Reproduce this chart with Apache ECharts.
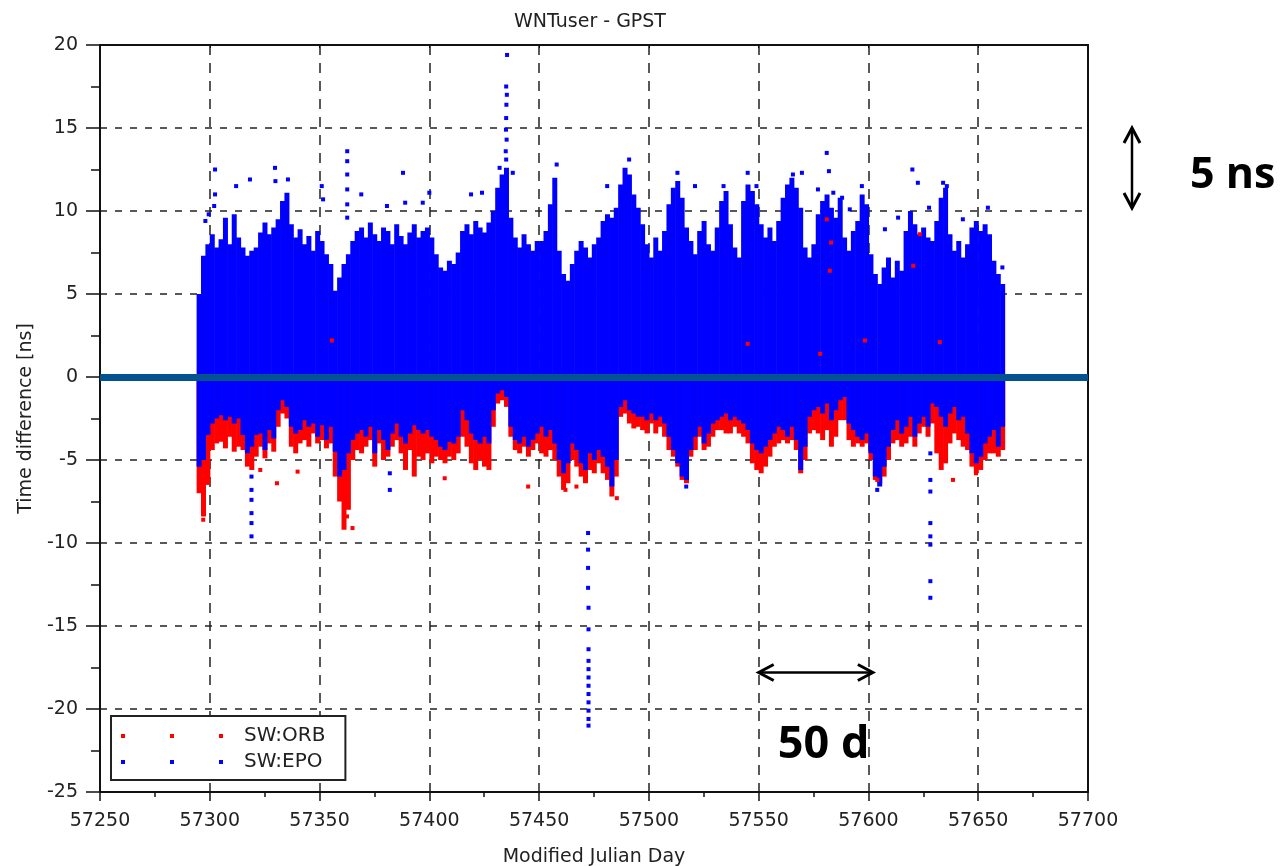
<!DOCTYPE html>
<html>
<head>
<meta charset="utf-8">
<title>WNTuser - GPST</title>
<script src="https://cdn.jsdelivr.net/npm/echarts/dist/echarts.min.js"></script>
<style>
  html, body { margin: 0; padding: 0; background: #fff; }
  #chart { width: 1281px; height: 866px; }
</style>
</head>
<body>
<div id="chart"></div>
<script>
// x axis ticks (MJD)
const xTicks = [57250, 57300, 57350, 57400, 57450, 57500, 57550, 57600, 57650, 57700];
// y axis ticks (ns)
const yTicks = [-25, -20, -15, -10, -5, 0, 5, 10, 15, 20];

// data in 2-day bins, first bin centred on MJD 57295
const binStart = 57295;
const binStep = 2;

// SW:EPO (blue) - upper edge of the dense cloud
const bluTop = [
  5.0, 7.3, 8.0, 8.6, 7.8, 8.3, 9.6, 8.0, 9.8, 8.4,
  7.8, 7.3, 7.6, 7.8, 8.7, 9.3, 8.6, 9.0, 9.5, 10.6,
  11.1, 9.2, 8.4, 8.9, 8.0, 8.5, 7.6, 8.8, 8.2, 7.4,
  6.8, 5.2, 6.0, 6.8, 7.4, 8.2, 8.8, 9.0, 8.4, 9.3,
  8.6, 8.2, 9.0, 8.8, 8.0, 9.2, 8.5, 8.0, 8.7, 9.2,
  8.4, 8.8, 9.0, 8.4, 7.4, 6.6, 6.4, 7.0, 6.8, 7.5,
  8.8, 9.2, 8.6, 9.4, 9.0, 8.7, 9.3, 10.0, 11.4, 12.2,
  12.6, 9.6, 8.4, 7.8, 8.6, 8.0, 7.6, 8.2, 8.2, 8.8,
  10.4, 12.0, 7.6, 6.2, 5.8, 6.8, 7.6, 8.2, 7.8, 7.2,
  8.0, 8.4, 9.4, 9.8, 9.6, 10.2, 11.6, 12.6, 12.2, 11.0,
  10.2, 9.2, 8.0, 7.2, 8.4, 7.6, 8.8, 10.4, 11.4, 11.8,
  10.8, 9.0, 8.2, 7.4, 8.8, 9.4, 8.0, 7.6, 9.0, 10.6,
  11.2, 9.2, 7.8, 7.2, 10.6, 11.6, 11.2, 10.4, 9.2, 8.4,
  9.0, 8.2, 9.4, 10.8, 11.6, 12.0, 11.4, 10.2, 7.8, 7.2,
  8.0, 9.8, 10.6, 11.0, 10.2, 9.6, 10.8, 8.4, 7.6, 8.8,
  9.4, 11.0, 10.4, 7.4, 6.2, 5.6, 6.6, 7.2, 6.0, 7.0,
  6.4, 8.8, 10.0, 9.2, 8.6, 9.0, 8.4, 8.2, 9.4, 10.8,
  11.4, 8.6, 7.6, 8.2, 7.2, 8.0, 9.0, 9.4, 8.8, 9.2,
  8.6, 7.0, 6.2, 5.6
];

// SW:EPO (blue) - lower edge of the dense cloud
const bluBot = [
  -5.4, -5.0, -3.5, -2.8, -2.5, -2.3, -2.6, -2.4, -2.8, -2.5,
  -3.5, -4.6, -4.2, -3.5, -3.4, -4.4, -3.2, -3.7, -2.0, -1.4,
  -1.8, -3.0, -3.4, -3.2, -2.6, -3.0, -2.8, -3.6, -2.9, -3.8,
  -3.0, -4.5, -6.0, -5.6, -4.6, -3.8, -3.4, -3.2, -3.6, -3.0,
  -4.6, -3.2, -3.8, -4.4, -3.4, -2.8, -3.6, -4.0, -3.4, -2.9,
  -3.2, -3.4, -3.2, -3.6, -3.8, -4.2, -4.4, -3.9, -4.0, -3.6,
  -2.0, -2.6, -3.4, -3.8, -4.0, -3.6, -4.0, -2.0, -1.0, -0.8,
  -1.2, -3.0, -3.8, -4.0, -3.6, -4.2, -3.8, -3.4, -3.0, -3.6,
  -3.2, -4.0, -5.0, -5.8, -5.2, -4.0, -4.4, -5.2, -5.6, -4.6,
  -5.0, -4.4, -4.8, -5.4, -6.6, -5.0, -1.8, -1.4, -2.0, -2.2,
  -2.4, -2.4, -2.6, -2.2, -2.6, -2.4, -2.8, -3.6, -4.4, -5.2,
  -6.0, -6.2, -4.4, -3.6, -3.0, -4.0, -3.4, -2.8, -2.6, -2.4,
  -2.2, -2.6, -2.4, -2.6, -2.8, -3.2, -4.0, -4.4, -4.6, -4.2,
  -3.8, -3.4, -3.0, -3.2, -3.6, -3.0, -3.8, -5.6, -4.2, -2.4,
  -2.0, -1.8, -2.2, -1.6, -2.6, -2.0, -1.4, -1.2, -2.8, -3.2,
  -3.6, -3.8, -3.4, -4.6, -6.0, -6.6, -5.4, -4.2, -3.2, -2.6,
  -3.4, -3.0, -2.4, -3.6, -2.8, -2.4, -3.0, -1.6, -1.8, -2.4,
  -3.0, -2.2, -1.8, -2.6, -2.4, -3.4, -4.6, -5.2, -4.8, -4.0,
  -3.6, -3.2, -4.2, -3.0
];

// SW:ORB (red) - lower edge, shows under the blue cloud
const redBot = [
  -7.0, -8.4, -6.5, -4.4, -4.0, -3.9, -4.3, -3.6, -4.5, -4.2,
  -4.4, -5.4, -5.6, -4.8, -4.2, -4.9, -4.0, -4.5, -3.0, -2.2,
  -2.5, -4.2, -4.6, -4.0, -3.8, -4.2, -3.4, -4.0, -3.8, -4.3,
  -4.0, -6.0, -7.5, -9.2, -8.0, -5.0, -4.4, -4.6, -4.2, -3.8,
  -5.4, -4.0, -5.0, -4.8, -4.2, -3.8, -4.6, -5.6, -4.4, -6.0,
  -4.8, -5.0, -4.6, -5.2, -4.8, -5.0, -5.2, -4.8, -5.0, -4.6,
  -3.6, -4.2, -5.2, -5.6, -5.0, -5.4, -5.6, -3.0, -1.6, -1.4,
  -1.8, -3.6, -4.4, -4.6, -4.2, -4.8, -4.4, -4.0, -4.6, -4.8,
  -4.4, -5.0, -6.0, -6.8, -6.4, -5.0, -5.4, -6.0, -6.4, -5.6,
  -5.8, -5.2, -5.8, -6.2, -7.2, -6.0, -2.4, -2.2, -2.8, -3.1,
  -3.0, -3.2, -3.4, -2.8, -3.4, -3.0, -3.6, -4.4, -4.8, -5.4,
  -6.2, -6.4, -4.8, -4.4, -3.6, -4.4, -4.2, -3.6, -3.2, -3.2,
  -3.4, -3.4, -3.0, -3.4, -3.6, -4.0, -5.2, -5.6, -5.8, -5.4,
  -4.8, -4.2, -4.0, -3.8, -4.0, -3.8, -4.4, -5.8, -5.0, -3.4,
  -3.2, -3.4, -3.8, -3.2, -4.2, -3.6, -2.6, -2.6, -3.8, -4.2,
  -4.0, -4.2, -4.0, -5.0, -6.2, -6.4, -6.0, -5.0, -4.0, -3.8,
  -4.2, -4.0, -3.6, -4.2, -3.4, -3.0, -3.6, -2.8, -4.6, -5.6,
  -5.2, -4.0, -3.4, -3.8, -4.2, -4.4, -5.4, -5.8, -5.6, -5.0,
  -4.6, -4.6, -4.8, -4.4
];

// isolated blue points [MJD, ns]
const bluDots = [
  [57435.4, 19.4], [57435.0, 17.5], [57435.3, 17.0], [57435.1, 16.4], [57435.0, 15.6],
  [57434.9, 14.9], [57435.2, 14.3], [57434.8, 13.6], [57435.0, 13.1],
  [57472.3, -9.4], [57472.3, -10.4], [57472.3, -11.5], [57472.3, -12.7], [57472.5, -13.9],
  [57472.5, -15.2], [57472.5, -16.4], [57472.5, -17.1], [57472.5, -17.6], [57472.5, -18.1],
  [57472.5, -18.6], [57472.5, -19.1], [57472.5, -19.6], [57472.5, -20.1], [57472.5, -20.6],
  [57472.5, -21.0],
  [57628.2, -4.6], [57628.2, -6.2], [57628.2, -6.9], [57628.2, -8.8], [57628.2, -9.6],
  [57628.2, -10.1], [57628.2, -12.3], [57628.2, -13.3],
  [57319.0, -6.0], [57319.0, -6.8], [57319.0, -7.4], [57319.0, -8.2], [57319.0, -8.8], [57319.0, -9.6],
  [57362.6, 13.6], [57362.6, 13.0], [57362.6, 12.2], [57362.6, 11.3], [57362.6, 10.4], [57362.6, 9.6],
  [57302.4, 12.5], [57302.4, 11.0], [57302.0, 10.3], [57299.5, 9.8], [57298.0, 9.4],
  [57312.0, 11.5], [57318.3, 11.9], [57329.7, 12.6], [57329.9, 11.8], [57335.6, 11.9],
  [57351.0, 11.5], [57351.6, 10.7], [57369.0, 11.0], [57380.7, 10.3], [57388.0, 12.3],
  [57389.0, 10.5], [57397.0, 10.5], [57400.0, 11.1], [57419.0, 11.0], [57424.0, 11.1],
  [57432.0, 12.6], [57438.0, 12.3], [57458.0, 12.8], [57481.0, 11.5], [57491.0, 13.1],
  [57513.0, 12.3], [57521.0, 11.5], [57534.0, 11.5], [57545.0, 12.3], [57549.0, 11.5],
  [57565.6, 12.2], [57569.7, 12.3], [57577.0, 11.3], [57581.0, 13.5], [57582.0, 12.4],
  [57584.0, 11.1], [57588.0, 10.8], [57591.5, 10.1], [57597.0, 11.5], [57598.0, 10.2],
  [57607.5, 8.9], [57613.5, 9.6], [57620.0, 12.5], [57622.5, 11.7], [57627.6, 10.2],
  [57634.0, 11.7], [57635.7, 11.5], [57643.0, 9.5], [57654.4, 10.2], [57661.0, 6.6],
  [57382.0, -5.8], [57382.0, -6.8], [57604.0, -6.8], [57517.0, -6.6]
];

// isolated red points [MJD, ns]
const redDots = [
  [57355.6, 2.2], [57545.0, 2.0], [57578.0, 1.4], [57581.0, 9.5], [57583.0, 8.1],
  [57582.4, 6.4], [57598.4, 2.2], [57620.4, 6.7], [57623.4, 8.6], [57632.5, 2.1],
  [57323.0, -5.6], [57330.6, -6.4], [57340.0, -5.7], [57362.5, -8.4], [57365.0, -9.1],
  [57407.0, -6.1], [57445.0, -6.6], [57462.0, -6.8], [57467.0, -6.6], [57485.4, -7.3],
  [57604.0, -6.2], [57638.5, -6.2], [57649.0, -5.8], [57297.0, -8.6]
];

const days = bluTop.map((v, i) => binStart + i * binStep);
const bluBars = bluTop.map((t, i) => [days[i], t, bluBot[i]]);
const redBars = redBot.map((b, i) => [days[i], 0, b]);

const FONT = 'DejaVu Sans';
const AXIS = '#111';

// one vertical block per bin, from hi down to lo
function rangeBar (color) {
  return function (params, api) {
    const x = api.value(0);
    const a = api.coord([x - binStep / 2, api.value(1)]);
    const b = api.coord([x + binStep / 2, api.value(2)]);
    return {
      type: 'rect',
      shape: { x: a[0], y: a[1], width: b[0] - a[0] + 0.6, height: b[1] - a[1] },
      style: { fill: color }
    };
  };
}

const chart = echarts.init(document.getElementById('chart'));

chart.setOption({
  animation: false,
  backgroundColor: '#fff',
  title: {
    text: 'WNTuser - GPST',
    left: 585,
    top: 8,
    textAlign: 'center',
    textStyle: { fontFamily: FONT, fontSize: 19, fontWeight: 'normal', color: '#222' }
  },
  // fixed plot box, labels are allowed to sit outside it
  grid: { left: 100, top: 45, width: 988, height: 747, outerBoundsMode: 'none', containLabel: false },
  legend: {
    left: 111,
    top: 716,
    orient: 'vertical',
    padding: [10, 20, 8, 10],
    itemGap: 6,
    itemWidth: 102,
    itemHeight: 4,
    borderColor: '#222',
    borderWidth: 2,
    backgroundColor: '#fff',
    textStyle: { fontFamily: FONT, fontSize: 20, lineHeight: 20, color: '#222', padding: [0, 0, 0, 16] },
    data: [
      { name: 'SW:ORB', icon: 'path://M0,0h4v4h-4zM49,0h4v4h-4zM98,0h4v4h-4z', itemStyle: { color: '#ff0000' } },
      { name: 'SW:EPO', icon: 'path://M0,0h4v4h-4zM49,0h4v4h-4zM98,0h4v4h-4z', itemStyle: { color: '#0000ff' } }
    ]
  },
  xAxis: [
    {
      type: 'value',
      min: xTicks[0],
      max: xTicks[xTicks.length - 1],
      interval: 50,
      position: 'bottom',
      name: 'Modified Julian Day',
      nameLocation: 'middle',
      nameGap: 56,
      nameTextStyle: { fontFamily: FONT, fontSize: 19, color: '#222' },
      axisLine: { onZero: false, lineStyle: { color: AXIS, width: 2 } },
      axisTick: { length: 9, lineStyle: { color: AXIS, width: 1.5 } },
      minorTick: { show: true, splitNumber: 2, length: 5, lineStyle: { color: AXIS, width: 1.5 } },
      axisLabel: { fontFamily: FONT, fontSize: 19, color: '#222', margin: 20, formatter: v => String(v) },
      splitLine: { show: true, lineStyle: { type: [10, 8], color: '#222', width: 1.5 } }
    },
    {
      type: 'value',
      min: xTicks[0],
      max: xTicks[xTicks.length - 1],
      interval: 50,
      position: 'top',
      axisLine: { onZero: false, lineStyle: { color: AXIS, width: 2 } },
      axisTick: { inside: true, length: 3, lineStyle: { color: AXIS } },
      axisLabel: { show: false },
      splitLine: { show: false }
    }
  ],
  yAxis: [
    {
      type: 'value',
      min: yTicks[0],
      max: yTicks[yTicks.length - 1],
      interval: 5,
      position: 'left',
      name: 'Time difference [ns]',
      nameLocation: 'middle',
      nameGap: 64,
      nameTextStyle: { fontFamily: FONT, fontSize: 19, color: '#222' },
      axisLine: { show: true, onZero: false, lineStyle: { color: AXIS, width: 2 } },
      axisTick: { length: 14, lineStyle: { color: AXIS, width: 1.5 } },
      minorTick: { show: true, splitNumber: 2, length: 9, lineStyle: { color: AXIS, width: 1.5 } },
      axisLabel: { fontFamily: FONT, fontSize: 19, color: '#222', margin: 22 },
      splitLine: { show: true, lineStyle: { type: [7, 8], color: '#222', width: 1.5 } }
    },
    {
      type: 'value',
      min: yTicks[0],
      max: yTicks[yTicks.length - 1],
      interval: 5,
      position: 'right',
      axisLine: { show: true, onZero: false, lineStyle: { color: AXIS, width: 2 } },
      axisTick: { show: false },
      axisLabel: { show: false },
      splitLine: { show: false }
    }
  ],
  series: [
    {
      name: 'SW:ORB',
      type: 'custom',
      renderItem: rangeBar('#ff0000'),
      encode: { x: 0, y: [1, 2] },
      data: redBars,
      z: 2
    },
    {
      name: 'SW:EPO',
      type: 'custom',
      renderItem: rangeBar('#0000ff'),
      encode: { x: 0, y: [1, 2] },
      data: bluBars,
      z: 3
    },
    {
      name: 'SW:EPO',
      type: 'scatter',
      symbol: 'rect',
      symbolSize: 4,
      itemStyle: { color: '#0000ff', opacity: 1 },
      data: bluDots,
      z: 4
    },
    {
      name: 'SW:ORB',
      type: 'scatter',
      symbol: 'rect',
      symbolSize: 4,
      itemStyle: { color: '#ff0000', opacity: 1 },
      data: redDots,
      z: 5,
      // thick zero reference line
      markLine: {
        silent: true,
        symbol: 'none',
        label: { show: false },
        lineStyle: { color: '#02538f', width: 7, type: 'solid', opacity: 1 },
        data: [{ yAxis: 0 }]
      }
    }
  ]
});

// annotations: 5 ns and 50 d arrows, placed with the axes' scales
const P = (x, y) => chart.convertToPixel({ gridIndex: 0 }, [x, y]);

function arrow (x1, y1, x2, y2) {
  const len = Math.hypot(x2 - x1, y2 - y1);
  const ux = (x2 - x1) / len, uy = (y2 - y1) / len;
  const head = (tx, ty, dx, dy) => ({
    type: 'polyline',
    shape: { points: [[tx - dx * 15 - dy * 8, ty - dy * 15 + dx * 8], [tx, ty], [tx - dx * 15 + dy * 8, ty - dy * 15 - dx * 8]] },
    style: { stroke: '#000', lineWidth: 3, fill: null }
  });
  return [
    { type: 'line', shape: { x1: x1, y1: y1, x2: x2, y2: y2 }, style: { stroke: '#000', lineWidth: 2.5 } },
    head(x2, y2, ux, uy),
    head(x1, y1, -ux, -uy)
  ];
}

const rightEdge = P(57700, 0)[0];
const v15 = P(57700, 15)[1];
const v10 = P(57700, 10)[1];
const d1 = P(57550, -17.8);
const d2 = P(57602, -17.8);

chart.setOption({
  graphic: [
    ...arrow(rightEdge + 44, v15, rightEdge + 44, v10 - 3),
    {
      type: 'text',
      x: rightEdge + 102,
      y: (v15 + v10) / 2 + 6,
      style: { text: '5 ns', fontFamily: 'Open Sans', fontSize: 43, fontWeight: 'bold', fill: '#000', verticalAlign: 'middle' }
    },
    ...arrow(d1[0], d1[1], d2[0], d2[1]),
    {
      type: 'text',
      x: P(57558.7, 0)[0],
      y: P(0, -22.2)[1],
      style: { text: '50 d', fontFamily: 'Open Sans', fontSize: 45, fontWeight: 'bold', fill: '#000', verticalAlign: 'middle' }
    }
  ]
});
</script>
</body>
</html>
